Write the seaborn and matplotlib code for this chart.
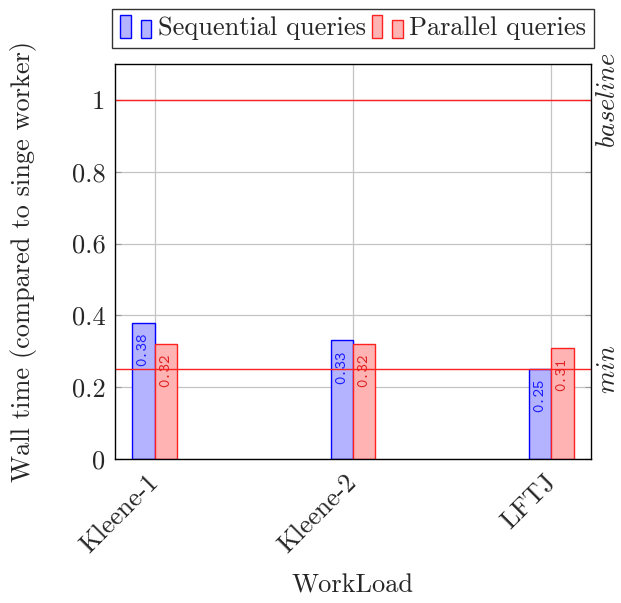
import numpy as np
import pandas as pd
import matplotlib
matplotlib.use("Agg")
import matplotlib.pyplot as plt
import seaborn as sns
from matplotlib.patches import Rectangle
from matplotlib.legend_handler import HandlerBase
from matplotlib.ticker import FuncFormatter

# ---- data ----
workloads = ["Kleene-1", "Kleene-2", "LFTJ"]
sequential = [0.38, 0.33, 0.25]
parallel = [0.32, 0.32, 0.31]
series_names = ["Sequential queries", "Parallel queries"]
baseline_value = 1.0
min_value = 0.25
yticks = [0, 0.2, 0.4, 0.6, 0.8, 1]

df = pd.DataFrame({
    "WorkLoad": workloads * 2,
    "value": sequential + parallel,
    "series": [series_names[0]] * 3 + [series_names[1]] * 3,
})

sns.set_style("white")
plt.rcParams["font.family"] = ["cmr10", "DejaVu Serif"]
plt.rcParams["mathtext.fontset"] = "cm"
plt.rcParams["axes.formatter.use_mathtext"] = True

FS = 19

face = {series_names[0]: "#b3b3ff", series_names[1]: "#ffb3b3"}
edge = {series_names[0]: "#0000ff", series_names[1]: "#ff2020"}
textc = {series_names[0]: "#1a1aff", series_names[1]: "#e02020"}

fig = plt.figure(figsize=(6.21, 6.03), dpi=100)
ax = fig.add_axes([0.1852, 0.2388, 0.7665, 0.6551])

sns.barplot(data=df, x="WorkLoad", y="value", hue="series", order=workloads,
            hue_order=series_names, width=0.224, saturation=1,
            palette=face, ax=ax, legend=False, zorder=3)

for cont, name in zip(ax.containers, series_names):
    for p in cont.patches:
        p.set_facecolor(face[name])
        p.set_edgecolor(edge[name])
        p.set_linewidth(1.0)
        h = p.get_height()
        ax.annotate(f"{h:.2f}",
                    (p.get_x() + p.get_width() / 2, h),
                    xytext=(0, -7), textcoords="offset points",
                    rotation=90, ha="center", va="top",
                    fontfamily=["cmtt10", "DejaVu Sans Mono"],
                    fontsize=11.5, color=textc[name], zorder=5)

ax.axhline(baseline_value, color="#ff2020", lw=1.0, zorder=4)
ax.axhline(min_value, color="#ff2020", lw=1.0, zorder=4)

ax.set_xlim(-0.2, 2.2)
ax.set_ylim(0, 1.1)
ax.set_yticks(yticks)
ax.yaxis.set_major_formatter(FuncFormatter(lambda v, pos: f"{v:g}"))

ax.grid(True, color="#c4c4c4", lw=0.9, zorder=0)
ax.set_axisbelow(True)
for s in ax.spines.values():
    s.set_color("black")
    s.set_linewidth(1.0)
    s.set_zorder(6)

ax.tick_params(axis="y", direction="in", length=4, color="#999999",
               labelsize=FS, right=True, left=True, pad=7)
ax.tick_params(axis="x", direction="out", length=10, color="#c4c4c4",
               labelsize=FS, pad=4)
plt.setp(ax.get_xticklabels(), rotation=45, ha="right", va="center",
         rotation_mode="anchor")

ax.set_xlabel("WorkLoad", fontsize=FS, labelpad=12)
ax.set_ylabel("Wall time (compared to singe worker)", fontsize=FS, labelpad=25)

# right-side labels
ax.annotate(r"$baseline$", xy=(1.0, baseline_value), xycoords=("axes fraction", "data"),
            xytext=(3.5, 0), textcoords="offset points", rotation=90,
            ha="left", va="center", fontsize=FS)
ax.annotate(r"$min$", xy=(1.0, min_value), xycoords=("axes fraction", "data"),
            xytext=(3.5, 0), textcoords="offset points", rotation=90,
            ha="left", va="center", fontsize=FS)


class TwoBarHandler(HandlerBase):
    def __init__(self, fc, ec):
        super().__init__()
        self.fc, self.ec = fc, ec

    def create_artists(self, legend, orig_handle, xdescent, ydescent,
                       width, height, fontsize, trans):
        bw = width * 0.3
        r1 = Rectangle((-xdescent + width * 0.02, -ydescent - height * 0.15),
                       bw, height * 1.25, facecolor=self.fc, edgecolor=self.ec,
                       lw=1.0, transform=trans)
        r2 = Rectangle((-xdescent + width * 0.62, -ydescent - height * 0.15),
                       bw, height * 0.95, facecolor=self.fc, edgecolor=self.ec,
                       lw=1.0, transform=trans)
        return [r1, r2]


h1 = Rectangle((0, 0), 1, 1)
h2 = Rectangle((0, 0), 1, 1)
leg = ax.legend([h1, h2], series_names, loc="lower center",
                bbox_to_anchor=(0.5, 1.04), ncol=2, frameon=True,
                fancybox=False, edgecolor="black", fontsize=FS,
                handlelength=1.3, handletextpad=0.15, columnspacing=0.2,
                borderpad=0.3, borderaxespad=0,
                handler_map={h1: TwoBarHandler(face[series_names[0]], edge[series_names[0]]),
                             h2: TwoBarHandler(face[series_names[1]], edge[series_names[1]])})
leg.get_frame().set_linewidth(1.0)

fig.savefig("out.png", dpi=100)
